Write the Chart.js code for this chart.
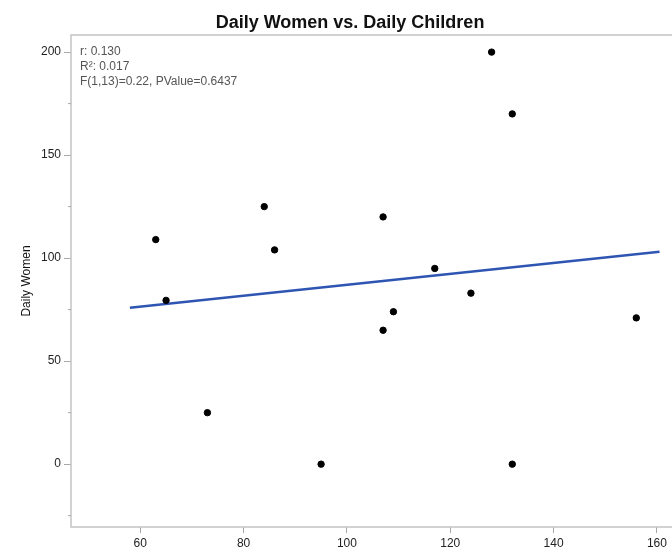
<!DOCTYPE html>
<html>
<head>
<meta charset="utf-8">
<script src="https://cdn.jsdelivr.net/npm/chart.js@4.4.1/dist/chart.umd.min.js"></script>
<style>
    html, body { margin: 0; padding: 0; background: #ffffff; }
    #wrap { width: 672px; height: 551px; position: relative; }
</style>
</head>
<body>
<div id="wrap"><canvas id="scatterChart"></canvas></div>
<script>
// Daily Children (x) vs Daily Women (y)
const childrenValues = [63, 65, 73, 84, 86, 95, 107, 107, 109, 117, 124, 128, 132, 132, 156];
const womenValues    = [109, 79.5, 25, 125, 104, 0, 120, 65, 74, 95, 83, 200, 170, 0, 71];

// fitted line end points
const fitX = [58, 160.5];
const fitY = [75.9, 103.1];

const chartTitle = 'Daily Women vs. Daily Children';
const yTitle = 'Daily Women';
const statLines = ['r: 0.130', 'R\u00b2: 0.017', 'F(1,13)=0.22, PValue=0.6437'];

const fontFamily = "'Liberation Sans', Arial, sans-serif";

const points = childrenValues.map((x, i) => ({ x: x, y: womenValues[i] }));
const fitLine = fitX.map((x, i) => ({ x: x, y: fitY[i] }));

const frameAndText = {
    id: 'frameAndText',
    afterDraw(chart) {
        const ctx = chart.ctx;
        const area = chart.chartArea;
        const yScale = chart.scales.y;
        ctx.save();

        // plot frame (runs off the right edge like the original)
        ctx.strokeStyle = '#c4c4c4';
        ctx.lineWidth = 1.5;
        ctx.beginPath();
        ctx.moveTo(chart.width, area.top);
        ctx.lineTo(area.left, area.top);
        ctx.lineTo(area.left, area.bottom);
        ctx.lineTo(chart.width, area.bottom);
        ctx.stroke();

        // minor ticks on y
        ctx.lineWidth = 1;
        ctx.strokeStyle = '#a8a8a8';
        yScale.ticks.forEach(t => {
            if (t.value % 50 !== 0) {
                const py = yScale.getPixelForValue(t.value);
                ctx.beginPath();
                ctx.moveTo(area.left - 3, py);
                ctx.lineTo(area.left, py);
                ctx.stroke();
            }
        });

        // title
        ctx.fillStyle = '#111111';
        ctx.font = 'bold 18px ' + fontFamily;
        ctx.textAlign = 'center';
        ctx.textBaseline = 'alphabetic';
        ctx.fillText(chartTitle, 350, 28);

        // stats box text
        ctx.fillStyle = '#555555';
        ctx.font = '12px ' + fontFamily;
        ctx.textAlign = 'left';
        ctx.textBaseline = 'middle';
        statLines.forEach((line, i) => {
            ctx.fillText(line, area.left + 9, 52 + i * 15);
        });
        ctx.restore();
    }
};

new Chart(document.getElementById('scatterChart'), {
    type: 'scatter',
    data: {
        datasets: [
            {
                label: 'Observed',
                data: points,
                backgroundColor: '#000000',
                borderColor: '#000000',
                pointRadius: 3.2,
                pointHoverRadius: 3.2,
                order: 1
            },
            {
                type: 'line',
                label: 'Fit',
                data: fitLine,
                borderColor: '#2f55b3',
                borderWidth: 2.5,
                pointRadius: 0,
                fill: false,
                order: 2
            }
        ]
    },
    options: {
        responsive: true,
        maintainAspectRatio: false,
        animation: false,
        layout: { padding: { top: 35, left: 0, right: 0, bottom: 0 } },
        plugins: {
            legend: { display: false },
            tooltip: { enabled: false },
            title: { display: false }
        },
        scales: {
            x: {
                type: 'linear',
                min: 46.6,
                max: 162.1,
                afterFit(scale) { scale.height = 24; },
                ticks: {
                    stepSize: 20,
                    includeBounds: false,
                    padding: 3,
                    color: '#222222',
                    font: { family: fontFamily, size: 12 },
                    maxRotation: 0
                },
                grid: {
                    drawOnChartArea: false,
                    tickLength: 6,
                    tickColor: '#a8a8a8'
                },
                border: { display: false }
            },
            y: {
                min: -30.5,
                max: 208.3,
                afterFit(scale) { scale.width = 71; },
                ticks: {
                    stepSize: 25,
                    includeBounds: false,
                    padding: 3,
                    color: '#222222',
                    font: { family: fontFamily, size: 12 },
                    callback: v => (v % 50 === 0 ? v : '')
                },
                grid: {
                    drawOnChartArea: false,
                    tickLength: 7,
                    tickColor: ctx => (ctx.tick && ctx.tick.value % 50 === 0 ? '#a8a8a8' : 'rgba(0,0,0,0)')
                },
                border: { display: false },
                title: {
                    display: true,
                    text: yTitle,
                    color: '#111111',
                    font: { family: fontFamily, size: 12 },
                    padding: { top: 19, bottom: 0 }
                }
            }
        }
    },
    plugins: [frameAndText]
});
</script>
</body>
</html>
